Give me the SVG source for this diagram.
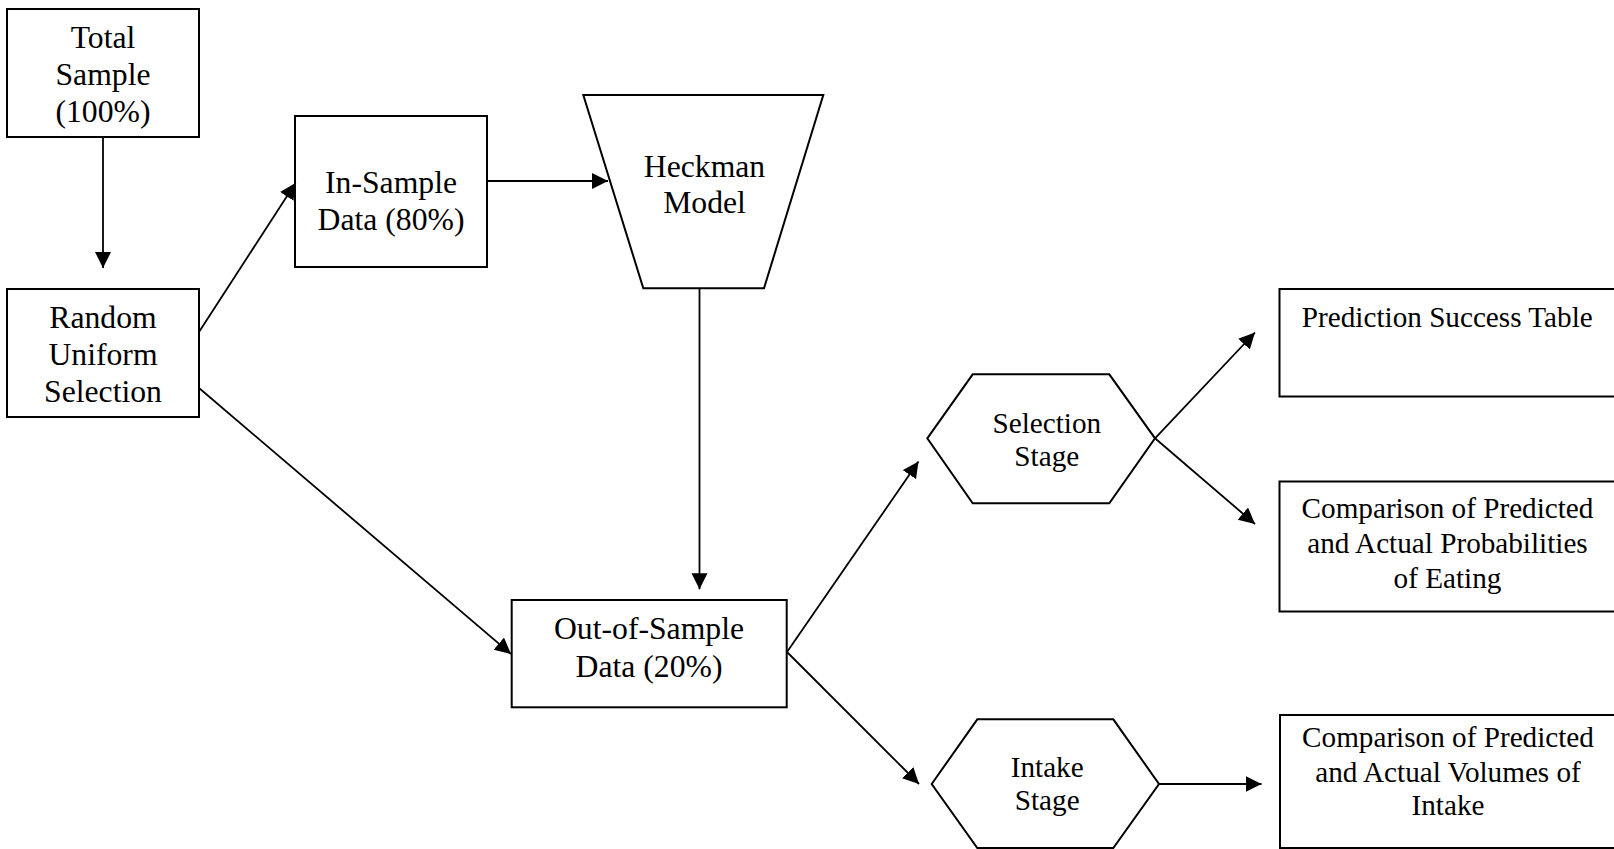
<svg xmlns="http://www.w3.org/2000/svg" width="1614" height="849" viewBox="0 0 1614 849">
<style>
.shape{fill:#fff;stroke:#000;stroke-width:2}
.conn{stroke:#000;stroke-width:1.8;fill:none}
.big{font-family:"Liberation Serif","Times New Roman",serif;font-size:31.7px;fill:#000;text-anchor:middle}
.small{font-family:"Liberation Serif","Times New Roman",serif;font-size:29.2px;fill:#000;text-anchor:middle}
</style>
<defs>
<marker id="arr" markerUnits="userSpaceOnUse" markerWidth="18" markerHeight="18" refX="16" refY="8" orient="auto">
<path d="M0,0 L16,8 L0,16 Z" fill="#000"/>
</marker>
</defs>
<rect width="1614" height="849" fill="#fff"/>
<g id="total-sample">
<rect class="shape" x="7" y="9" width="192" height="128"/>
<text class="big" x="103" y="48.3">Total</text>
<text class="big" x="103" y="85.3">Sample</text>
<text class="big" x="103" y="122.3">(100%)</text>
</g>
<g id="random-uniform-selection">
<rect class="shape" x="7" y="289" width="192" height="128"/>
<text class="big" x="103" y="328.3">Random</text>
<text class="big" x="103" y="365">Uniform</text>
<text class="big" x="103" y="401.7">Selection</text>
</g>
<g id="in-sample">
<rect class="shape" x="295" y="116" width="192" height="151"/>
<text class="big" x="391" y="193.3">In-Sample</text>
<text class="big" x="391" y="230">Data (80%)</text>
</g>
<g id="heckman-model">
<polygon class="shape" points="583.3,95 823.3,95 764,288.3 643.3,288.3"/>
<text class="big" x="704.5" y="176.7">Heckman</text>
<text class="big" x="704.5" y="212.7">Model</text>
</g>
<g id="out-of-sample">
<rect class="shape" x="511.7" y="600" width="275" height="107.3"/>
<text class="big" x="649" y="639">Out-of-Sample</text>
<text class="big" x="649" y="677.3">Data (20%)</text>
</g>
<g id="selection-stage">
<polygon class="shape" points="927.3,438.3 972.7,374.3 1109.3,374.3 1155,438.3 1109.3,503.3 972.7,503.3"/>
<text class="small" x="1046.8" y="432.7">Selection</text>
<text class="small" x="1046.8" y="465.7">Stage</text>
</g>
<g id="intake-stage">
<polygon class="shape" points="931.7,784 977.3,719.3 1113.3,719.3 1159,784 1113.3,848 977.3,848"/>
<text class="small" x="1047.2" y="777.3">Intake</text>
<text class="small" x="1047.2" y="810">Stage</text>
</g>
<g id="prediction-success-table">
<rect class="shape" x="1279.5" y="289" width="400" height="107.5"/>
<text class="small" x="1447.3" y="327">Prediction Success Table</text>
</g>
<g id="comparison-probabilities">
<rect class="shape" x="1279.5" y="481.5" width="400" height="130"/>
<text class="small" x="1447.5" y="517.5">Comparison of Predicted</text>
<text class="small" x="1447.5" y="552.5">and Actual Probabilities</text>
<text class="small" x="1447.5" y="587.5">of Eating</text>
</g>
<g id="comparison-volumes">
<rect class="shape" x="1280" y="715" width="400" height="133"/>
<text class="small" x="1448" y="746.5">Comparison of Predicted</text>
<text class="small" x="1448" y="781.5">and Actual Volumes of</text>
<text class="small" x="1448" y="815">Intake</text>
</g>
<g id="connectors">
<line class="conn" x1="103" y1="137" x2="103" y2="268" marker-end="url(#arr)"/>
<line class="conn" x1="199" y1="332" x2="295.5" y2="183" marker-end="url(#arr)"/>
<line class="conn" x1="199" y1="388" x2="511" y2="654" marker-end="url(#arr)"/>
<line class="conn" x1="487" y1="181" x2="608" y2="181" marker-end="url(#arr)"/>
<line class="conn" x1="699.5" y1="288.3" x2="699.5" y2="589.3" marker-end="url(#arr)"/>
<line class="conn" x1="787" y1="652" x2="918.5" y2="461.5" marker-end="url(#arr)"/>
<line class="conn" x1="787" y1="652" x2="919" y2="784" marker-end="url(#arr)"/>
<line class="conn" x1="1155" y1="438.3" x2="1255" y2="332.5" marker-end="url(#arr)"/>
<line class="conn" x1="1155" y1="438.3" x2="1255" y2="524" marker-end="url(#arr)"/>
<line class="conn" x1="1159" y1="784" x2="1261.5" y2="784" marker-end="url(#arr)"/>
</g>
</svg>
